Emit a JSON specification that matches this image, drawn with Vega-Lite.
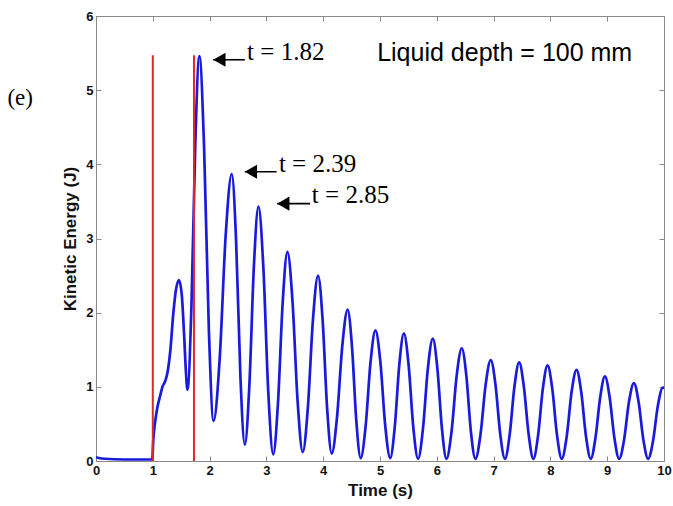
{
  "$schema": "https://vega.github.io/schema/vega-lite/v6.json",
  "width": 568,
  "height": 445,
  "autosize": {"type": "none"},
  "padding": {"left": 96, "top": 16, "right": 9, "bottom": 45},
  "background": "white",
  "config": {
    "view": {"stroke": "#8a8a8a", "strokeWidth": 1},
    "axis": {
      "grid": false,
      "domainColor": "#8a8a8a",
      "tickColor": "#8a8a8a",
      "labelFont": "Liberation Sans",
      "labelFontWeight": "bold",
      "labelFontSize": 13,
      "labelColor": "#111111",
      "titleFont": "Liberation Sans",
      "titleFontWeight": "bold",
      "titleFontSize": 17,
      "titleColor": "#111111"
    }
  },
  "datasets": {
    "ke": [
      {"t": 0.0, "e": 0.05}, {"t": 0.05, "e": 0.04}, {"t": 0.15, "e": 0.03}, {"t": 0.5, "e": 0.02},
      {"t": 0.99, "e": 0.02}, {"t": 1.01, "e": 0.3}, {"t": 1.04, "e": 0.52}, {"t": 1.08, "e": 0.72},
      {"t": 1.13, "e": 0.88}, {"t": 1.17, "e": 1.0}, {"t": 1.22, "e": 1.08}, {"t": 1.26, "e": 1.2},
      {"t": 1.31, "e": 1.5}, {"t": 1.36, "e": 1.98}, {"t": 1.41, "e": 2.32}, {"t": 1.46, "e": 2.44},
      {"t": 1.51, "e": 2.24}, {"t": 1.55, "e": 1.72}, {"t": 1.585, "e": 1.18}, {"t": 1.61, "e": 0.96},
      {"t": 1.68, "e": 2.08}, {"t": 1.75, "e": 4.33}, {"t": 1.82, "e": 5.46},
      {"t": 1.903, "e": 4.23}, {"t": 1.987, "e": 1.77}, {"t": 2.07, "e": 0.54},
      {"t": 2.177, "e": 1.37}, {"t": 2.283, "e": 3.04}, {"t": 2.39, "e": 3.87},
      {"t": 2.467, "e": 2.96}, {"t": 2.543, "e": 1.13}, {"t": 2.62, "e": 0.22},
      {"t": 2.7, "e": 1.02}, {"t": 2.78, "e": 2.63}, {"t": 2.86, "e": 3.43},
      {"t": 2.947, "e": 2.6}, {"t": 3.033, "e": 0.93}, {"t": 3.12, "e": 0.09},
      {"t": 3.203, "e": 0.77}, {"t": 3.287, "e": 2.14}, {"t": 3.37, "e": 2.82},
      {"t": 3.46, "e": 2.15}, {"t": 3.55, "e": 0.8}, {"t": 3.64, "e": 0.12},
      {"t": 3.73, "e": 0.72}, {"t": 3.82, "e": 1.91}, {"t": 3.91, "e": 2.5},
      {"t": 3.99, "e": 1.9}, {"t": 4.07, "e": 0.7}, {"t": 4.15, "e": 0.1},
      {"t": 4.243, "e": 0.59}, {"t": 4.337, "e": 1.56}, {"t": 4.43, "e": 2.04},
      {"t": 4.507, "e": 1.54}, {"t": 4.583, "e": 0.54}, {"t": 4.66, "e": 0.04},
      {"t": 4.747, "e": 0.47}, {"t": 4.833, "e": 1.33}, {"t": 4.92, "e": 1.76},
      {"t": 5.007, "e": 1.33}, {"t": 5.093, "e": 0.47}, {"t": 5.18, "e": 0.04},
      {"t": 5.26, "e": 0.46}, {"t": 5.34, "e": 1.3}, {"t": 5.42, "e": 1.72},
      {"t": 5.503, "e": 1.3}, {"t": 5.587, "e": 0.45}, {"t": 5.67, "e": 0.03},
      {"t": 5.757, "e": 0.44}, {"t": 5.843, "e": 1.25}, {"t": 5.93, "e": 1.65},
      {"t": 6.01, "e": 1.25}, {"t": 6.09, "e": 0.44}, {"t": 6.17, "e": 0.03},
      {"t": 6.26, "e": 0.4}, {"t": 6.35, "e": 1.15}, {"t": 6.44, "e": 1.52},
      {"t": 6.52, "e": 1.15}, {"t": 6.6, "e": 0.4}, {"t": 6.68, "e": 0.03},
      {"t": 6.77, "e": 0.36}, {"t": 6.86, "e": 1.03}, {"t": 6.95, "e": 1.36},
      {"t": 7.033, "e": 1.03}, {"t": 7.117, "e": 0.36}, {"t": 7.2, "e": 0.03},
      {"t": 7.283, "e": 0.355}, {"t": 7.367, "e": 1.005}, {"t": 7.45, "e": 1.33},
      {"t": 7.533, "e": 1.0}, {"t": 7.617, "e": 0.36}, {"t": 7.7, "e": 0.03},
      {"t": 7.783, "e": 0.345}, {"t": 7.867, "e": 0.975}, {"t": 7.95, "e": 1.29},
      {"t": 8.033, "e": 0.975}, {"t": 8.117, "e": 0.345}, {"t": 8.2, "e": 0.03},
      {"t": 8.287, "e": 0.33}, {"t": 8.373, "e": 0.93}, {"t": 8.46, "e": 1.23},
      {"t": 8.543, "e": 0.93}, {"t": 8.627, "e": 0.33}, {"t": 8.71, "e": 0.03},
      {"t": 8.793, "e": 0.31}, {"t": 8.877, "e": 0.86}, {"t": 8.96, "e": 1.14},
      {"t": 9.043, "e": 0.86}, {"t": 9.127, "e": 0.31}, {"t": 9.21, "e": 0.03},
      {"t": 9.297, "e": 0.285}, {"t": 9.383, "e": 0.795}, {"t": 9.47, "e": 1.05},
      {"t": 9.553, "e": 0.795}, {"t": 9.637, "e": 0.285}, {"t": 9.72, "e": 0.03},
      {"t": 9.807, "e": 0.27}, {"t": 9.893, "e": 0.75}, {"t": 9.98, "e": 0.99}, {"t": 10.0, "e": 0.99}
    ],
    "markers": [
      {"t": 1.0, "bottom": 0, "top": 5.47},
      {"t": 1.725, "bottom": 0, "top": 5.47}
    ],
    "arrows": [
      {"tip": 2.065, "tail": 2.62, "y": 5.41, "label": "t = 1.82", "tx": 2.66, "ty": 5.52},
      {"tip": 2.62, "tail": 3.18, "y": 3.9, "label": "t = 2.39", "tx": 3.22, "ty": 4.01},
      {"tip": 3.19, "tail": 3.77, "y": 3.47, "label": "t = 2.85", "tx": 3.8, "ty": 3.58}
    ],
    "notes": [
      {"t": 4.95, "y": 5.5, "text": "Liquid depth = 100 mm"}
    ],
    "panel": [
      {"t": -1.56, "y": 4.9, "text": "(e)"}
    ]
  },
  "layer": [
    {
      "data": {"name": "ke"},
      "mark": {"type": "line", "color": "#1a1adc", "strokeWidth": 2.7, "interpolate": "monotone"},
      "encoding": {
        "x": {"field": "t", "type": "quantitative", "scale": {"domain": [0, 10], "nice": false},
              "axis": {"orient": "bottom", "title": "Time (s)", "values": [0,1,2,3,4,5,6,7,8,9,10],
                       "tickSize": -5, "labelPadding": 8, "titlePadding": 5, "labelFlush": false}},
        "y": {"field": "e", "type": "quantitative", "scale": {"domain": [0, 6], "nice": false},
              "axis": {"orient": "left", "title": "Kinetic Energy (J)", "values": [0,1,2,3,4,5,6],
                       "tickSize": -5, "labelPadding": 8, "titlePadding": 6}}
      }
    },
    {
      "data": {"name": "markers"},
      "mark": {"type": "rule", "color": "#e02828", "strokeWidth": 2},
      "encoding": {
        "x": {"field": "t", "type": "quantitative",
              "axis": {"orient": "top", "title": null, "labels": false, "values": [0,1,2,3,4,5,6,7,8,9,10],
                       "tickSize": -5, "domain": false}},
        "y": {"field": "bottom", "type": "quantitative",
              "axis": {"orient": "right", "title": null, "labels": false, "values": [0,1,2,3,4,5,6],
                       "tickSize": -5, "domain": false}},
        "y2": {"field": "top"}
      }
    },
    {
      "data": {"name": "arrows"},
      "mark": {"type": "rule", "color": "black", "strokeWidth": 1.6},
      "encoding": {
        "x": {"field": "tip", "type": "quantitative", "axis": null},
        "x2": {"field": "tail"},
        "y": {"field": "y", "type": "quantitative", "axis": null}
      }
    },
    {
      "data": {"name": "arrows"},
      "mark": {"type": "point", "shape": "triangle-left", "filled": true, "color": "black", "opacity": 1, "size": 200, "xOffset": 6.1},
      "encoding": {
        "x": {"field": "tip", "type": "quantitative", "axis": null},
        "y": {"field": "y", "type": "quantitative", "axis": null}
      }
    },
    {
      "data": {"name": "arrows"},
      "mark": {"type": "text", "font": "Liberation Serif", "fontSize": 25, "align": "left", "baseline": "middle", "color": "black"},
      "encoding": {
        "x": {"field": "tx", "type": "quantitative", "axis": null},
        "y": {"field": "ty", "type": "quantitative", "axis": null},
        "text": {"field": "label"}
      }
    },
    {
      "data": {"name": "notes"},
      "mark": {"type": "text", "font": "Liberation Sans", "fontSize": 25, "align": "left", "baseline": "middle", "color": "black"},
      "encoding": {
        "x": {"field": "t", "type": "quantitative", "axis": null},
        "y": {"field": "y", "type": "quantitative", "axis": null},
        "text": {"field": "text"}
      }
    },
    {
      "data": {"name": "panel"},
      "mark": {"type": "text", "font": "Liberation Serif", "fontSize": 23, "align": "left", "baseline": "middle", "color": "black"},
      "encoding": {
        "x": {"field": "t", "type": "quantitative", "axis": null},
        "y": {"field": "y", "type": "quantitative", "axis": null},
        "text": {"field": "text"}
      }
    }
  ],
  "resolve": {"axis": {"x": "independent", "y": "independent"}}
}
